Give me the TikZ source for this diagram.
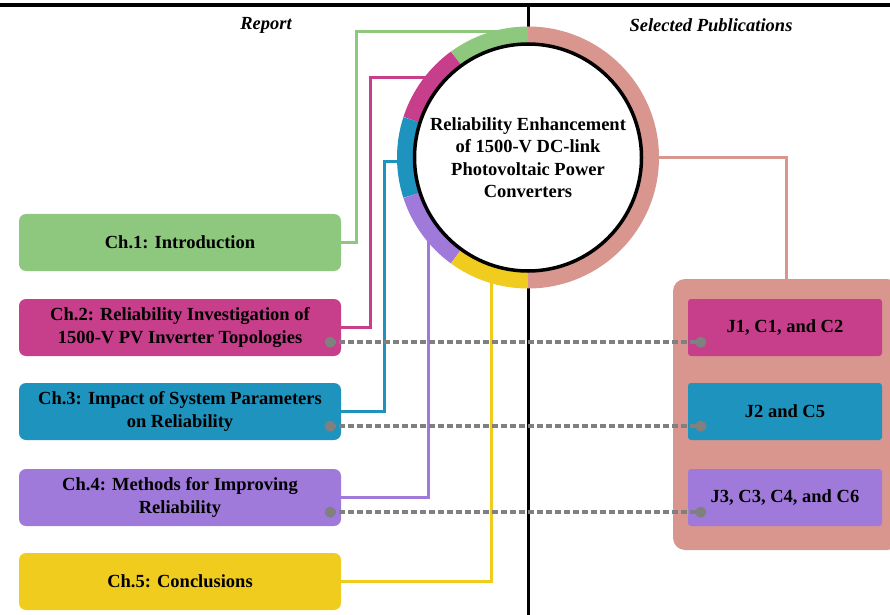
\documentclass[tikz,border=0pt]{standalone}
\usepackage{fontspec}
\setmainfont{Liberation Serif}
\usetikzlibrary{calc}
\definecolor{cgreen}{HTML}{8DC87E}
\definecolor{cmag}{HTML}{C73E8B}
\definecolor{cblue}{HTML}{1E93BE}
\definecolor{cpurp}{HTML}{A07ADA}
\definecolor{cyel}{HTML}{F0CC1E}
\definecolor{csalm}{HTML}{D8968F}
\definecolor{cgray}{HTML}{808080}
\begin{document}
\begin{tikzpicture}[x=1pt,y=1pt,
  txt/.style={font=\bfseries\fontsize{18.5}{22.5}\selectfont},
  chbox/.style={txt, rectangle, rounded corners=7pt, minimum width=322pt, minimum height=57pt, align=center, inner sep=0pt},
  pubbox/.style={txt, rectangle, rounded corners=3pt, minimum width=194pt, minimum height=57pt, align=center, inner sep=0pt},
  conn/.style={line width=3pt},
  dotline/.style={line width=3.6pt, color=cgray, dash pattern=on 5.5pt off 3.5pt},
  dotmark/.style={circle, fill=cgray, inner sep=0pt, minimum size=11pt},
  hdr/.style={font=\bfseries\itshape\fontsize{18.5}{22}\selectfont}
]
\useasboundingbox (0,0) rectangle (890,614);
% dividers
\coordinate (topL) at (0,609);
\coordinate (topR) at (890,609);
\coordinate (vT) at (528,609);
\coordinate (vB) at (528,-2);
\draw[line width=4pt] (topL) -- (topR);
\draw[line width=3pt] (vT) -- (vB);
% headers
\node[hdr] (hrep) at (266,589) {Report};
\node[hdr] (hpub) at (711,589) {Selected Publications};
% chapter boxes
\node[chbox, fill=cgreen] (ch1) at (180,371.5) {Ch.1: Introduction};
\node[chbox, fill=cmag] (ch2) at (180,286.5) {Ch.2: Reliability Investigation of\\1500-V PV Inverter Topologies};
\node[chbox, fill=cblue] (ch3) at (180,202.5) {Ch.3: Impact of System Parameters\\on Reliability};
\node[chbox, fill=cpurp] (ch4) at (180,116.5) {Ch.4: Methods for Improving\\Reliability};
\node[chbox, fill=cyel] (ch5) at (180,32.5) {Ch.5: Conclusions};
% centre
\coordinate (cc) at (528,456.5);
% connectors
\coordinate (gA) at (356,582);
\draw[conn,cgreen] (ch1.east) -| (gA) -- (gA -| cc);
\coordinate (mA) at (370,536);
\draw[conn,cmag] (ch2.east) -| (mA) -- (mA -| cc);
\coordinate (bA) at (384,452);
\draw[conn,cblue] (ch3.east) -| (bA) -- (bA -| cc);
\coordinate (pA) at (428,456.5);
\draw[conn,cpurp] (ch4.east) -| (pA);
\coordinate (yA) at (491,456.5);
\draw[conn,cyel] (ch5.east) -| (yA);
% publications panel
\node[rectangle, rounded corners=12pt, fill=csalm, minimum width=226pt, minimum height=271pt] (pub) at (786,199.5) {};
\draw[conn,csalm] (cc) -| (pub.north);
% ring
\foreach \a/\b/\col in {90/126/cgreen,126/162/cmag,162/198/cblue,198/234/cpurp,234/270/cyel,-90/90/csalm}
  \draw[line width=18pt,\col] ($(cc)+(\a:122)$) arc[start angle=\a, end angle=\b, radius=122];
\node[txt, circle, draw, line width=3.5pt, fill=white, minimum size=227pt, inner sep=0pt, align=center] (c) at (cc) {Reliability Enhancement\\of 1500-V DC-link\\Photovoltaic Power\\Converters};
% publication boxes
\node[pubbox, fill=cmag] (j1) at (785,286.5) {J1, C1, and C2};
\node[pubbox, fill=cblue] (j2) at (785,202.5) {J2 and C5};
\node[pubbox, fill=cpurp] (j3) at (785,116.5) {J3, C3, C4, and C6};
% dotted links
\foreach \i/\l/\r in {1/ch2/j1,2/ch3/j2,3/ch4/j3}{
  \coordinate (dl\i) at ($(\l.south east)+(-11,14)$);
  \coordinate (dr\i) at ($(\r.south west)+(13,14)$);
  \draw[dotline] (dl\i) -- (dr\i);
  \node[dotmark] (dml\i) at (dl\i) {};
  \node[dotmark] (dmr\i) at (dr\i) {};
}
\end{tikzpicture}
\end{document}
